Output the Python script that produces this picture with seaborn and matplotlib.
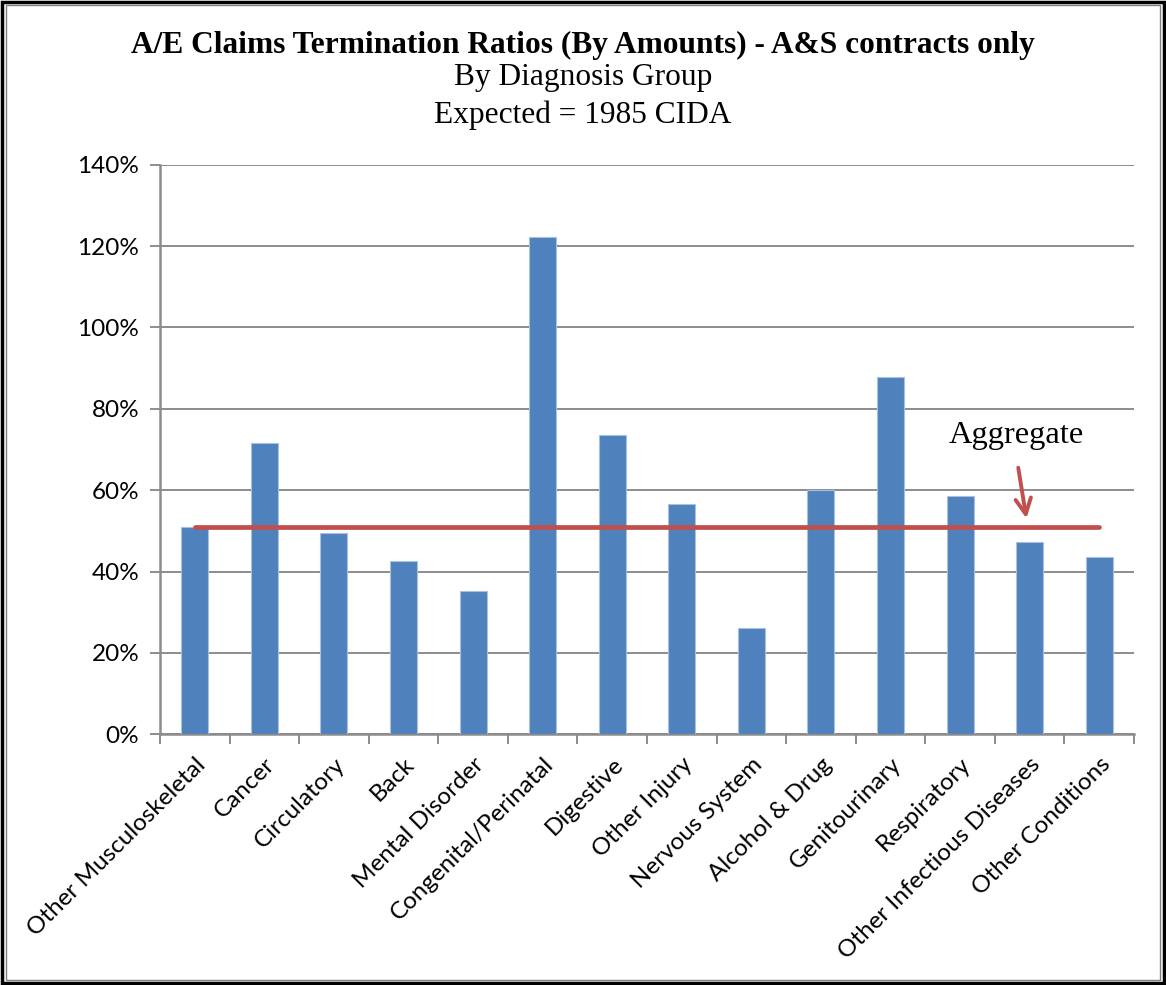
import matplotlib
matplotlib.use("Agg")
import matplotlib.pyplot as plt
import seaborn as sns
import pandas as pd
from matplotlib.ticker import FuncFormatter, FixedLocator
from matplotlib.patches import Rectangle

categories = ["Other Musculoskeletal", "Cancer", "Circulatory", "Back", "Mental Disorder",
              "Congenital/Perinatal", "Digestive", "Other Injury", "Nervous System",
              "Alcohol & Drug", "Genitourinary", "Respiratory", "Other Infectious Diseases",
              "Other Conditions"]
ratios = [50.9, 71.5, 49.4, 42.5, 35.3, 122.3, 73.5, 56.5, 26.1, 60.0, 87.8, 58.5, 47.3, 43.6]
aggregate = 51.0
title = "A/E Claims Termination Ratios (By Amounts) - A&S contracts only"
subtitle1 = "By Diagnosis Group"
subtitle2 = "Expected = 1985 CIDA"
yticks = [0, 20, 40, 60, 80, 100, 120, 140]

sns.set_theme(style="white")
plt.rcParams['font.family'] = ['Lato', 'DejaVu Sans']
plt.rcParams['text.color'] = 'black'
plt.rcParams['xtick.labelcolor'] = 'black'
plt.rcParams['ytick.labelcolor'] = 'black'

df = pd.DataFrame({"cat": categories, "val": ratios})

fig = plt.figure(figsize=(11.66, 9.85), dpi=100)
ax = fig.add_axes([160/1166, 1-734.3/985, (1134-160)/1166, (734.3-164.7)/985])

sns.barplot(data=df, x="cat", y="val", color="#4F81BD", width=0.39, ax=ax,
            saturation=1, edgecolor="#A9C0E0", linewidth=0.8, zorder=3)

ax.set_xlim(-0.5, len(categories) - 0.5)
ax.set_ylim(0, 140)
ax.set_yticks(yticks)
ax.yaxis.set_major_formatter(FuncFormatter(lambda v, p: f"{v:.0f}%"))
ax.grid(axis="y", color="#8C8C8C", linewidth=1.4, zorder=0)
ax.set_axisbelow(True)

# Aggregate line
ax.plot([0, len(categories) - 1], [aggregate, aggregate], color="#C0504D", lw=3.4,
        solid_capstyle="round", zorder=4)

ax.annotate("", xy=(11.96, 52.4), xytext=(11.83, 66.2),
            arrowprops=dict(arrowstyle="->", color="#C0504D", lw=2.8,
                            mutation_scale=28), zorder=5)
ax.text(11.81, 73.5, "Aggregate", ha="center", va="center", fontsize=23.3,
        family="Liberation Serif", color="black")

ax.set_xlabel("")
ax.set_ylabel("")
ax.set_xticks(range(len(categories)))
ax.set_xticklabels(categories, rotation=45, ha="right", rotation_mode="anchor", fontsize=17.5)
ax.tick_params(axis="x", which="major", length=0, pad=14)
ax.xaxis.set_minor_locator(FixedLocator([i - 0.5 for i in range(len(categories) + 1)]))
ax.tick_params(axis="x", which="minor", bottom=True, length=7, width=1.4, color="#8C8C8C", direction="out")
ax.tick_params(axis="y", left=True, length=7, width=1.4, color="#8C8C8C", labelsize=17.5, pad=8)

for s in ["top", "right"]:
    ax.spines[s].set_visible(False)
for s in ["left", "bottom"]:
    ax.spines[s].set_color("#8C8C8C")
    ax.spines[s].set_linewidth(1.8)

fig.text(0.5, 1-45/985, title, ha="center", va="center", fontsize=22.6,
         fontweight="bold", family="Liberation Serif", color="black")
fig.text(0.5, 1-78/985, subtitle1, ha="center", va="center", fontsize=22.6,
         family="Liberation Serif", color="black")
fig.text(0.5, 1-115/985, subtitle2, ha="center", va="center", fontsize=22.6,
         family="Liberation Serif", color="black")

fig.patches.append(Rectangle((0.002, 0.002), 0.996, 0.996, transform=fig.transFigure,
                             fill=False, edgecolor="black", lw=2.5))
fig.patches.append(Rectangle((0.005, 0.005), 0.990, 0.990, transform=fig.transFigure,
                             fill=False, edgecolor="#808080", lw=1.0))

fig.savefig("out.png", dpi=100)
